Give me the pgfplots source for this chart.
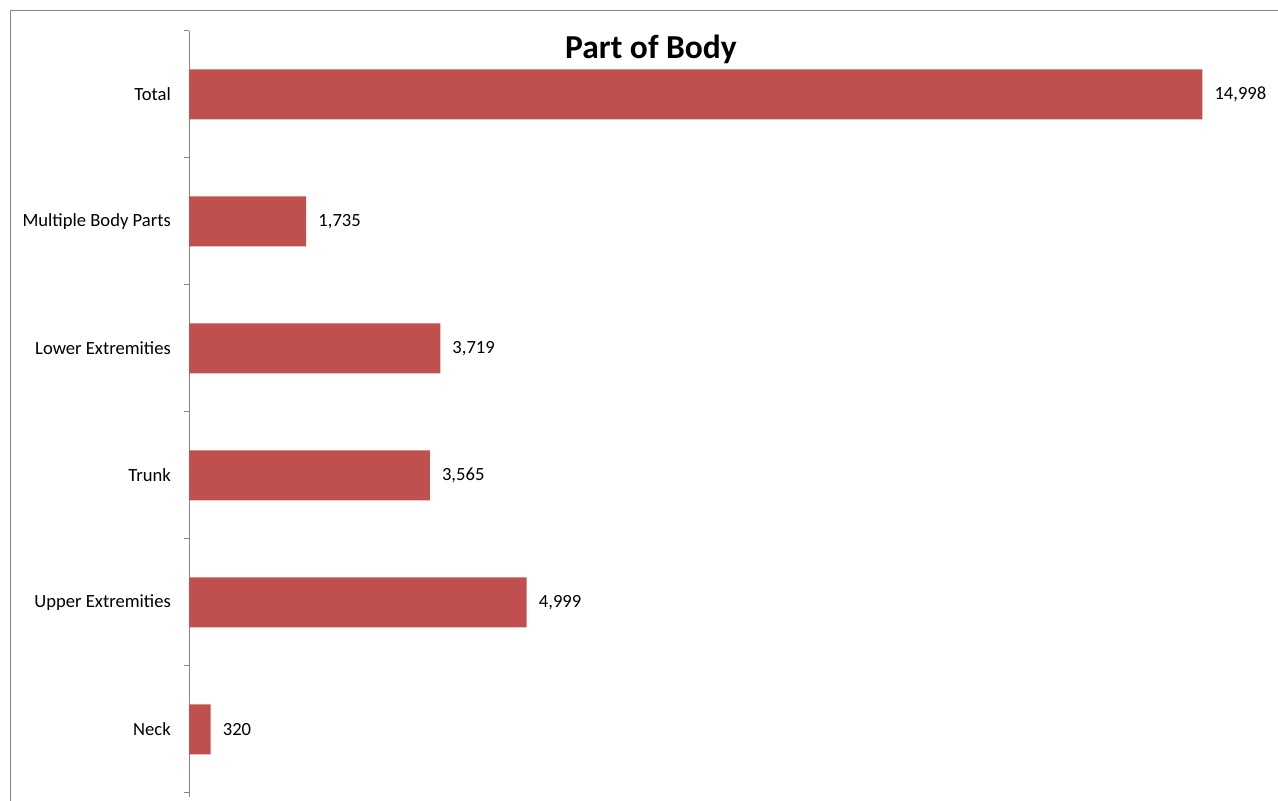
\documentclass[border=0pt]{standalone}
\usepackage{pgfplots}
\pgfplotsset{compat=1.18}
\usepackage{fontspec}
\setmainfont{Carlito}
\definecolor{barred}{HTML}{C0504D}
\definecolor{axgray}{HTML}{868686}
\begin{document}
\begin{tikzpicture}[x=1bp,y=1bp]
\path[use as bounding box] (0,0) rectangle (1278,801);
\draw[axgray, line width=1bp] (10.5,0) -- (10.5,790.5) -- (1278,790.5);
\begin{axis}[
  at={(189bp,8bp)}, anchor=south west,
  scale only axis, width=1081bp, height=762bp,
  xmin=0, xmax=16000, ymin=-0.5, ymax=5.5,
  xbar, bar width=50bp,
  axis x line=none, axis y line*=left,
  y axis line style={axgray, line width=1bp, -, shorten <=-4bp},
  ytick={0,...,5},
  yticklabels={Neck,Upper Extremities,Trunk,Lower Extremities,Multiple Body Parts,Total},
  major tick length=0pt,
  minor ytick={-0.5,0.5,1.5,2.5,3.5,4.5,5.5},
  minor tick length=5bp,
  tick align=outside,
  every tick/.style={axgray, line width=1bp},
  yticklabel style={font=\fontsize{18.6bp}{22bp}\selectfont, inner sep=0pt, xshift=-18bp},
  /pgf/number format/assume math mode=true,
  point meta=x,
  nodes near coords={\pgfmathprintnumber[fixed,precision=0,1000 sep={,}]{\pgfplotspointmeta}},
  nodes near coords style={font=\fontsize{18.6bp}{22bp}\selectfont, anchor=west, inner sep=0pt, xshift=12bp, text=black},
]
\addplot[fill=barred, draw=none] coordinates {
  (320,0) (4999,1) (3565,2) (3719,3) (1735,4) (14998,5)
};
\end{axis}
\node[font=\bfseries\fontsize{33.5bp}{38bp}\selectfont] at (651,752) {Part of Body};
\end{tikzpicture}
\end{document}
